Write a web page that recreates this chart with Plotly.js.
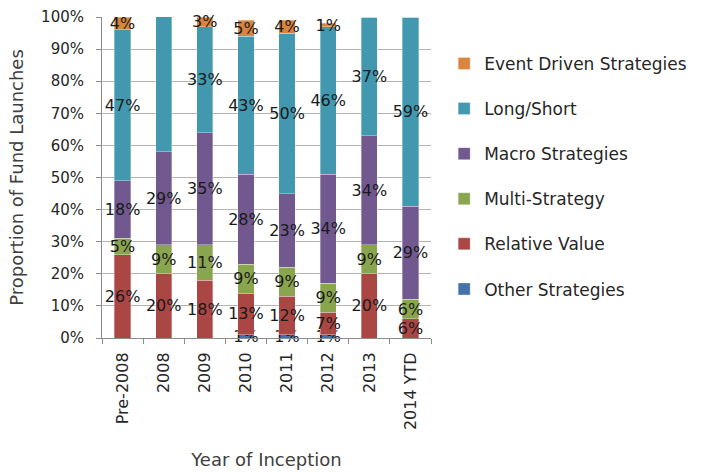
<!DOCTYPE html>
<html>
<head>
<meta charset="utf-8">
<script src="https://cdn.plot.ly/plotly-3.0.1.min.js"></script>
<style>
  html, body { margin: 0; padding: 0; background: #fff; }
  #chart { width: 704px; height: 472px; }
</style>
</head>
<body>
<div id="chart"></div>
<script>
// Year of inception buckets
const years = ['Pre-2008', '2008', '2009', '2010', '2011', '2012', '2013', '2014 YTD'];

// Share of fund launches by strategy (%), bottom of the stack first
const otherStrategies    = [0, 0, 0, 1, 1, 1, 0, 0];
const relativeValue      = [26, 20, 18, 13, 12, 7, 20, 6];
const multiStrategy      = [5, 9, 11, 9, 9, 9, 9, 6];
const macroStrategies    = [18, 29, 35, 28, 23, 34, 34, 29];
const longShort          = [47, 43, 33, 43, 50, 46, 37, 59];
const eventDriven        = [4, 0, 3, 5, 4, 1, 0, 0];

const yTickValues = [0, 10, 20, 30, 40, 50, 60, 70, 80, 90, 100];
const yTickLabels = ['0%', '10%', '20%', '30%', '40%', '50%', '60%', '70%', '80%', '90%', '100%'];

const FONT = 'DejaVu Sans, sans-serif';

const series = [
  { name: 'Other Strategies',        values: otherStrategies, color: '#4572A7' },
  { name: 'Relative Value',          values: relativeValue,   color: '#AA4643' },
  { name: 'Multi-Strategy',          values: multiStrategy,   color: '#89A54E' },
  { name: 'Macro Strategies',        values: macroStrategies, color: '#71588F' },
  { name: 'Long/Short',              values: longShort,       color: '#4198AF' },
  { name: 'Event Driven Strategies', values: eventDriven,     color: '#DB843D' }
];

// Legend lists the top of the stack first
const traces = series.map((s, i) => ({
  type: 'bar',
  name: s.name,
  legendgroup: s.name,
  legendrank: series.length - i,
  x: years,
  y: s.values,
  text: s.values.map(v => (v > 0 ? v + '%' : '')),
  textposition: 'inside',
  insidetextanchor: 'middle',
  textangle: 0,
  constraintext: 'none',
  cliponaxis: false,
  insidetextfont: { family: FONT, size: 16, color: '#1a1a1a' },
  marker: { color: s.color, line: { color: 'rgba(255,255,255,0.55)', width: 0.6 } },
  hoverinfo: 'name+y'
}));

const layout = {
  width: 704,
  height: 472,
  margin: { l: 102, r: 237, t: 17, b: 134, pad: 0 },
  paper_bgcolor: '#ffffff',
  plot_bgcolor: '#ffffff',
  barmode: 'stack',
  bargap: 0.605,
  font: { family: FONT, color: '#262626' },
  uniformtext: { mode: 'show', minsize: 16 },
  xaxis: {
    type: 'category',
    tickangle: -90,
    tickfont: { family: FONT, size: 16, color: '#262626' },
    ticks: 'outside',
    tickson: 'boundaries',
    ticklen: 5,
    ticklabelstandoff: 7,
    tickcolor: '#8c8c8c',
    showline: true,
    linecolor: '#8c8c8c',
    linewidth: 1,
    showgrid: false,
    title: { text: 'Year of Inception', font: { family: FONT, size: 18, color: '#404040' }, standoff: 24 }
  },
  yaxis: {
    range: [0, 100],
    tickvals: yTickValues,
    ticktext: yTickLabels,
    tickfont: { family: FONT, size: 15, color: '#262626' },
    ticks: 'outside',
    ticklen: 5,
    ticklabelstandoff: 9,
    tickcolor: '#8c8c8c',
    showline: true,
    linecolor: '#8c8c8c',
    linewidth: 1,
    showgrid: true,
    gridcolor: '#b3b3b3',
    gridwidth: 1,
    zeroline: false,
    title: { text: 'Proportion of Fund Launches', font: { family: FONT, size: 18, color: '#404040' }, standoff: 12 }
  },
  legend: {
    x: 1.04,
    xanchor: 'left',
    y: 0.91,
    yanchor: 'top',
    traceorder: 'grouped',
    tracegroupgap: 20,
    font: { family: FONT, size: 17, color: '#262626' },
    bgcolor: 'rgba(0,0,0,0)'
  },
  showlegend: true
};

Plotly.newPlot('chart', traces, layout, { displayModeBar: false, staticPlot: true });
</script>
</body>
</html>
